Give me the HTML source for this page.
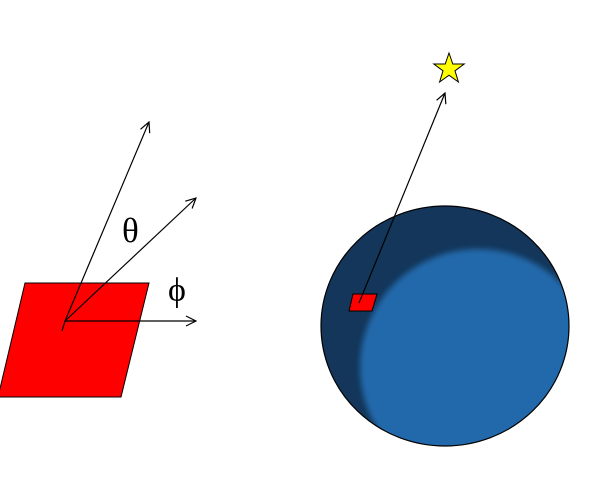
<!DOCTYPE html>
<html><head><meta charset="utf-8"><style>html,body{margin:0;padding:0;background:#fff}svg{display:block}</style></head>
<body>
<svg width="602" height="493" viewBox="0 0 602 493">
<defs>
<marker id="ah" viewBox="0 0 12 12" refX="11" refY="6" markerWidth="12" markerHeight="12" markerUnits="userSpaceOnUse" orient="auto">
<path d="M1,1 L11,6 L1,11" fill="none" stroke="#000" stroke-width="1.2"/></marker>
<clipPath id="sc"><ellipse cx="445" cy="326" rx="124" ry="120"/></clipPath>
<filter id="bl" x="-20%" y="-20%" width="140%" height="140%"><feGaussianBlur stdDeviation="3"/></filter>
</defs>
<g>
<polygon points="25,283 149,283 121,397 -2,397" fill="#ff0000" stroke="#000" stroke-width="1"/>
<line x1="65" y1="321" x2="62" y2="331" stroke="#000" stroke-width="1.2"/>
<line x1="65" y1="321" x2="149" y2="122" stroke="#000" stroke-width="1.2" marker-end="url(#ah)"/>
<line x1="65" y1="321" x2="196" y2="198" stroke="#000" stroke-width="1.2" marker-end="url(#ah)"/>
<line x1="65" y1="321" x2="196" y2="321" stroke="#000" stroke-width="1.2" marker-end="url(#ah)"/>
<text x="122" y="242" font-family="Liberation Serif, serif" font-size="35">θ</text>
<text x="168" y="301" font-family="Liberation Serif, serif" font-size="34">ϕ</text>
</g>
<g>
<ellipse cx="445" cy="326" rx="124" ry="120" fill="#13365a"/>
<g clip-path="url(#sc)"><circle cx="478" cy="367" r="118" fill="#2369ab" filter="url(#bl)"/></g>
<ellipse cx="445" cy="326" rx="124" ry="120" fill="none" stroke="#000" stroke-width="1.2"/>
<polygon points="353,294 377,294 372,311 349,311" fill="#ff0000" stroke="#000" stroke-width="1"/>
<line x1="359" y1="303" x2="445" y2="93" stroke="#000" stroke-width="1.2" marker-end="url(#ah)"/>
<polygon points="449,53 452.8,64 464.2,64 455,70.8 458.4,82 449,75.2 439.6,82 443,70.8 433.8,64 445.2,64" fill="#ffff00" stroke="#000" stroke-width="1"/>
</g>
</svg>
</body></html>
